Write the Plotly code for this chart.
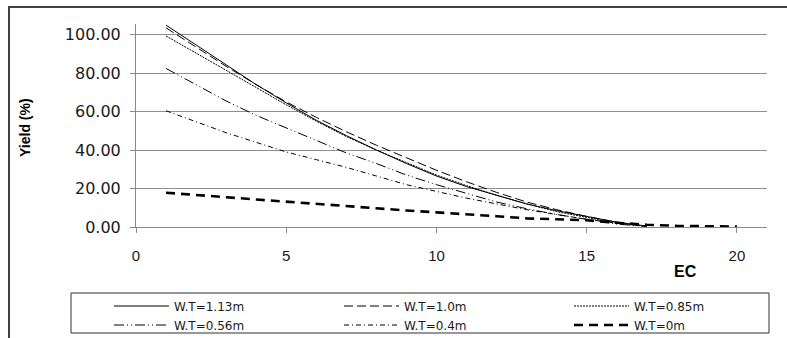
import plotly.graph_objects as go

ec = list(range(1, 21))

names = ["W.T=1.13m", "W.T=1.0m", "W.T=0.85m", "W.T=0.56m", "W.T=0.4m", "W.T=0m"]

wt_113 = [104.9, 94.5, 84.0, 74.0, 64.5, 55.5, 47.5, 40.0, 33.0, 26.5, 21.0, 16.5, 12.0, 8.5, 5.5, 2.5, 0.5]
wt_100 = [103.5, 93.5, 83.5, 74.0, 65.0, 57.0, 49.5, 42.5, 36.0, 29.5, 23.5, 18.0, 13.0, 9.0, 5.5, 2.5, 0.5]
wt_085 = [99.3, 90.5, 81.5, 72.5, 63.5, 55.0, 47.0, 40.0, 33.5, 27.0, 21.5, 16.5, 12.0, 8.0, 5.0, 2.0, 0.3]
wt_056 = [82.4, 74.0, 65.5, 58.0, 51.5, 45.0, 38.5, 33.0, 27.0, 22.0, 17.5, 13.0, 9.5, 6.5, 4.0, 1.5, 0.3]
wt_040 = [60.4, 54.5, 49.0, 44.0, 39.0, 35.0, 31.0, 26.5, 22.0, 18.5, 15.0, 12.0, 9.0, 6.5, 4.0, 2.0, 0.5]
wt_000 = [17.8, 16.5, 15.5, 14.3, 13.1, 12.0, 11.0, 9.8, 8.6, 7.6, 6.7, 5.6, 4.5, 4.0, 3.5, 2.2, 1.2, 0.6, 0.4, 0.2]

series = [wt_113, wt_100, wt_085, wt_056, wt_040, wt_000]
dashes = ["solid", "9px,4px", "2px,1px", "10px,3px,1px,3px,1px,3px", "5px,3px,1px,3px", "9px,6px"]
widths = [1, 1, 1, 1, 1, 2.6]

y_ticks = [0, 20, 40, 60, 80, 100]
y_ticklabels = ["0.00", "20.00", "40.00", "60.00", "80.00", "100.00"]
x_ticks = [0, 5, 10, 15, 20]

fig = go.Figure()
for nm, vals, d, w in zip(names, series, dashes, widths):
    fig.add_trace(go.Scatter(
        x=ec[:len(vals)], y=vals, mode="lines", name=nm,
        line=dict(color="black", width=w, dash=d),
    ))

W, H = 787, 338
L, R, T, B = 136, 20, 24, 111
pw, ph = W - L - R, H - T - B

def px(x):
    return (x - L) / pw

def py(y):
    return (H - B - y) / ph

fig.update_layout(
    width=W, height=H,
    margin=dict(l=L, r=R, t=T, b=B, autoexpand=False),
    paper_bgcolor="white", plot_bgcolor="white",
    showlegend=True,
    legend=dict(
        orientation="h",
        x=px(109), xanchor="left",
        y=py(291.5), yanchor="top",
        font=dict(family="DejaVu Sans", size=12, color="#1a1a1a"),
        itemwidth=55,
        entrywidth=160, entrywidthmode="pixels",
        bgcolor="rgba(0,0,0,0)", borderwidth=0,
        tracegroupgap=0,
        itemclick=False,
    ),
    xaxis=dict(
        range=[0, 21], tickvals=x_ticks,
        showgrid=False, zeroline=False,
        showline=True, linecolor="#8a8a8a", linewidth=1,
        ticks="outside", ticklen=5, tickcolor="#8a8a8a",
        tickfont=dict(family="Liberation Sans", size=15, color="#1a1a1a"),
        ticklabelstandoff=10,
        fixedrange=True,
    ),
    yaxis=dict(
        range=[0, 105.5], tickvals=y_ticks, ticktext=y_ticklabels,
        showgrid=True, gridcolor="#8f8f8f", gridwidth=1,
        zeroline=False,
        showline=True, linecolor="#8a8a8a", linewidth=1,
        ticks="outside", ticklen=5, tickcolor="#8a8a8a",
        tickfont=dict(family="DejaVu Sans", size=16, color="#1a1a1a"),
        ticklabelstandoff=6,
        fixedrange=True,
    ),
    shapes=[
        # outer chart frame
        dict(type="rect", xref="paper", yref="paper",
             x0=px(9), x1=px(800), y0=py(360), y1=py(7),
             line=dict(color="#404040", width=2), fillcolor="rgba(0,0,0,0)", layer="below"),
        # legend box
        dict(type="rect", xref="paper", yref="paper",
             x0=px(71), x1=px(769), y0=py(333), y1=py(293),
             line=dict(color="#303030", width=1), fillcolor="rgba(0,0,0,0)"),
    ],
    annotations=[
        dict(text="<b>Yield (%)</b>", xref="paper", yref="paper",
             x=px(25), y=py(128), xanchor="center", yanchor="middle",
             textangle=-90, showarrow=False,
             font=dict(family="Liberation Sans", size=14, color="black")),
        dict(text="<b>EC</b>", xref="paper", yref="paper",
             x=px(685), y=py(271), xanchor="center", yanchor="middle",
             showarrow=False,
             font=dict(family="Liberation Sans", size=16, color="black")),
    ],
)

fig.write_html("out.html")
